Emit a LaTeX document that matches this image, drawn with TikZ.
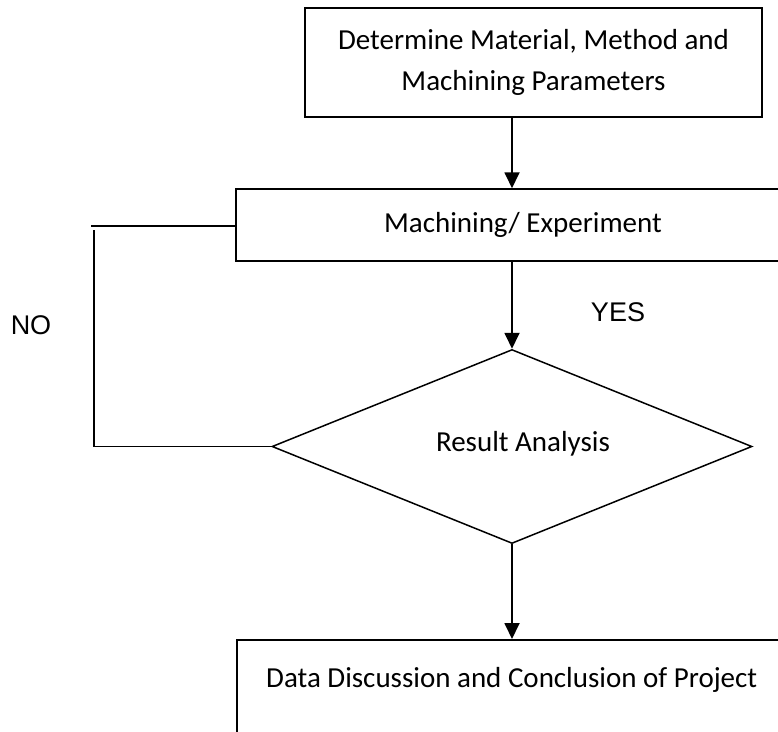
\documentclass[tikz,border=0pt]{standalone}
\usepackage{fontspec}
\setmainfont{Carlito}
\newfontfamily\arialfont{Liberation Sans}
\usetikzlibrary{arrows.meta,shapes.geometric}
\begin{document}
\begin{tikzpicture}[x=1pt,y=-1pt,
  box/.style={draw, line width=1.5pt, rectangle, font=\fontsize{29}{41}\selectfont, align=center, inner sep=0pt},
  flow/.style={line width=1.8pt, -{Triangle[length=16pt,width=15pt]}},
  plain/.style={line width=1.8pt},
  lbl/.style={font=\arialfont\fontsize{27}{30}\selectfont, inner sep=0pt}]
\useasboundingbox (0,0) rectangle (778,731);
\clip (0,0) rectangle (778,731);
% top box
\node[box, minimum width=457pt, minimum height=109pt] (b1) at (533.5,62.5)
  {Determine Material, Method and\\Machining Parameters};
% second box
\node[box, minimum width=574pt, minimum height=72pt] (b2) at (523,225)
  {Machining/ Experiment};
% decision
\node[draw, line width=1.5pt, diamond, minimum width=480pt, minimum height=194pt, inner sep=0pt,
  label={[font=\fontsize{29}{41}\selectfont, xshift=11pt, yshift=3pt]center:Result Analysis}] (d) at (512,446.5) {};
% bottom box (runs off the page)
\node[box, minimum width=550pt, text height=20pt, text depth=100pt, inner ysep=28pt, anchor=north west] (b3) at (236,639)
  {Data Discussion and Conclusion of Project};
% labels
\node[lbl] (no) at (31,325) {NO};
\node[lbl] (yes) at (618,312) {YES};
% connectors
\draw[flow] (b1.south -| 512,0) -- (b2.north -| 512,0);
\draw[flow] (b2.south -| 512,0) -- (d.north);
\draw[flow] (d.south) -- (b3.north -| 512,0);
% feedback loop
\coordinate (fbtop) at (91,226);
\coordinate (fbgap) at (94,230);
\coordinate (fbcorner) at (94,446.5);
\draw[plain] (b2.west |- fbtop) -- (fbtop);
\draw[plain] (d.west) -- (fbcorner) -- (fbgap);
\end{tikzpicture}
\end{document}
